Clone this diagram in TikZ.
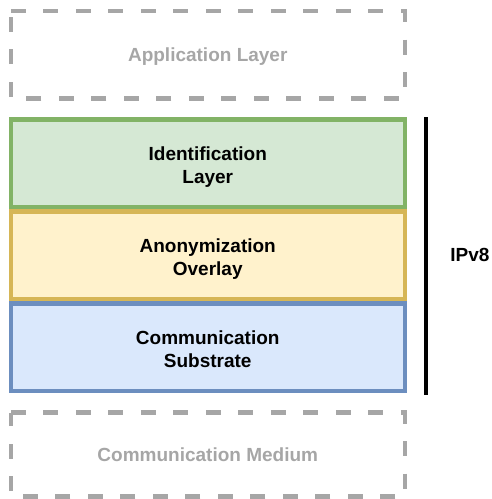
\documentclass[tikz,border=0pt]{standalone}
\usepackage{fontspec}
\setmainfont{Liberation Sans}
\usetikzlibrary{positioning}

\definecolor{idFill}{HTML}{D5E8D4}
\definecolor{idLine}{HTML}{82B366}
\definecolor{anonFill}{HTML}{FFF2CC}
\definecolor{anonLine}{HTML}{D6B656}
\definecolor{commFill}{HTML}{DAE8FC}
\definecolor{commLine}{HTML}{6C8EBF}
\definecolor{ghostGray}{HTML}{A6A6A6}

\begin{document}
\begin{tikzpicture}[x=1pt, y=1pt,
    every node/.style={font=\fontsize{19}{23}\selectfont\bfseries, align=center, text depth=0pt},
    layer/.style={draw, line width=4.5pt, minimum width=394pt, minimum height=87.5pt, inner sep=0pt, text height=40.5pt},
    ghost/.style={minimum width=394pt, inner sep=0pt, outer sep=0pt, text=ghostGray},
    ghostLine/.style={ghostGray, line width=4.5pt, dash pattern=on 15pt off 17.5pt}]
    \useasboundingbox (0,0) rectangle (492,-499);

    % layers outside the stack
    \node[ghost, minimum height=87.5pt] at (207.75,-54.75) (AppLayer) {Application Layer};
    \node[ghost, minimum height=84pt] at (207.75,-454.5) (CommMedium) {Communication Medium};
    \draw[ghostLine] (AppLayer.north west) -- (AppLayer.north east) -- (AppLayer.south east) -- (AppLayer.south west) -- cycle;
    \draw[ghostLine] (CommMedium.north west) -- (CommMedium.north east) -- (CommMedium.south east) -- (CommMedium.south west) -- cycle;

    % the stack
    \node[layer, fill=idFill, draw=idLine] at (207.75,-163) (IdLayer) {Identification\\Layer};
    \node[layer, fill=anonFill, draw=anonLine, below=0pt of IdLayer] (AnonOverlay) {Anonymization\\Overlay};
    \node[layer, fill=commFill, draw=commLine, below=0pt of AnonOverlay] (CommSubstrate) {Communication\\Substrate};

    \coordinate (BarTop) at (426,-117);
    \coordinate (BarBottom) at (426,-395);
    \draw[line width=4.5pt] (BarTop) -- (BarBottom);
    \node at (470,-255) (IPvLabel) {IPv8};
\end{tikzpicture}
\end{document}
